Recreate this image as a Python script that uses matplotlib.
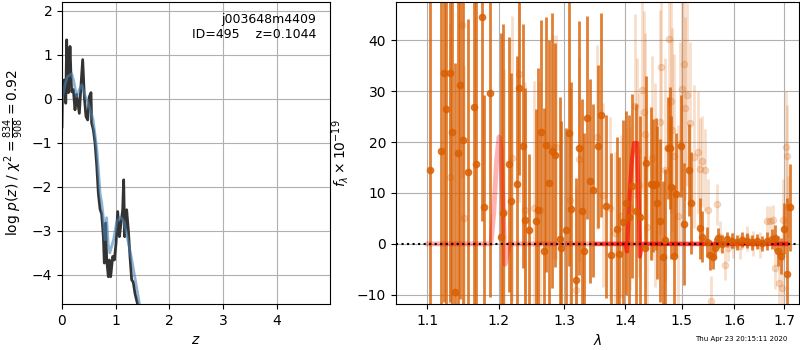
"""
Redshift fit summary: log p(z) on the left, grism spectrum on the right
"""

import numpy as np
import matplotlib
matplotlib.use('Agg')
import matplotlib.pyplot as plt
from matplotlib.ticker import FixedLocator, FixedFormatter, NullLocator

# --- left panel: log p(z) (dark = full fit, blue = smoothed) ---
z_fit = [0.000, 0.012, 0.030, 0.056, 0.070, 0.087, 0.100, 0.118, 0.149, 0.165,
         0.180, 0.211, 0.242, 0.270, 0.286, 0.323, 0.348, 0.385, 0.416, 0.447,
         0.478, 0.509, 0.540, 0.552, 0.583, 0.615, 0.646, 0.677, 0.708, 0.739,
         0.770, 0.788, 0.813, 0.832, 0.863, 0.881, 0.906, 0.944, 0.975, 1.006,
         1.037, 1.068, 1.099, 1.130, 1.148, 1.167, 1.204, 1.235, 1.266, 1.297,
         1.328, 1.359, 1.403, 1.428]
logp_fit = [-0.64, 0.43, 0.10, 0.43, -0.10, 1.34, 0.50, 0.14, 1.19, 0.60,
            0.16, 0.21, -0.25, 0.10, -0.02, -0.33, 0.20, 0.89, 0.05, -0.40,
            -0.48, 0.05, 0.14, -0.55, -0.70, -1.00, -1.50, -2.15, -2.50, -2.62,
            -3.13, -3.73, -2.82, -3.66, -4.04, -3.66, -4.04, -3.58, -3.66, -3.28,
            -2.56, -3.13, -2.83, -2.52, -1.84, -3.13, -2.52, -2.98, -3.58, -4.11,
            -4.17, -4.42, -4.64, -4.80]

z_smooth = [0.00, 0.05, 0.10, 0.18, 0.22, 0.27, 0.32, 0.37, 0.42, 0.49,
            0.58, 0.65, 0.71, 0.74, 0.77, 0.80, 0.83, 0.86, 0.89, 0.96,
            1.02, 1.08, 1.11, 1.16, 1.20, 1.30, 1.42, 1.46]
logp_smooth = [-0.02, 0.30, 0.50, 0.57, 0.40, 0.05, 0.20, 0.32, 0.10, -0.10,
               -0.48, -1.16, -2.15, -2.37, -2.70, -3.20, -2.70, -3.30, -3.50, -3.20,
               -2.79, -2.69, -2.71, -2.80, -3.05, -3.66, -4.50, -4.80]

# --- right panel: spectrum, first beam (solid) ---
wave1 = [1.1044, 1.1189, 1.1235, 1.1262, 1.1312, 1.1345, 1.1382, 1.1419, 1.1456, 1.1498,
         1.1563, 1.1653, 1.1681, 1.1767, 1.1795, 1.1882, 1.2043, 1.2072, 1.2161, 1.2190,
         1.2274, 1.2310, 1.2360, 1.2400, 1.2449, 1.2566, 1.2596, 1.2642, 1.2688, 1.2720,
         1.2760, 1.2813, 1.2859, 1.2938, 1.2953, 1.3028, 1.3071, 1.3113, 1.3183, 1.3242,
         1.3284, 1.3322, 1.3365, 1.3420, 1.3463, 1.3551, 1.3601, 1.3683, 1.3757, 1.3863,
         1.3902, 1.3959, 1.4011, 1.4061, 1.4119, 1.4192, 1.4262, 1.4338, 1.4366, 1.4448,
         1.4489, 1.4537, 1.4566, 1.4612, 1.4660, 1.4697, 1.4750, 1.4787, 1.4804, 1.4864,
         1.4907, 1.4991, 1.5046, 1.5145, 1.5182, 1.5340, 1.5372, 1.5466, 1.5528, 1.5579,
         1.5623, 1.5686, 1.5751, 1.5847, 1.5944, 1.6041, 1.6140, 1.6239, 1.6338, 1.6439,
         1.6540, 1.6641, 1.6743, 1.6810, 1.6877, 1.6933, 1.7000, 1.7062, 1.7124]
flux1 = [14.6, 18.2, 33.6, 26.5, 33.6, 22.0, -9.4, 17.9, 31.2, 20.4,
         14.2, 26.9, 15.6, 44.5, 7.2, 29.6, 1.4, 6.1, 15.6, 8.5,
         11.8, 30.6, 19.2, 4.7, 2.7, 4.5, 6.6, 22.0, -1.3, 19.5,
         12.0, 18.3, 17.4, 0.9, -0.8, 2.8, 21.7, 6.8, -7.0, 18.8,
         6.4, -1.3, 24.8, 12.3, 10.5, 19.2, 25.3, 7.4, -2.1, 3.0,
         -2.0, 4.3, 8.0, 5.3, 11.4, 6.5, 5.2, -0.8, 15.9, 11.8,
         11.5, 11.8, 8.1, 4.5, -2.6, 0.8, 18.8, 18.8, 11.1, -2.4,
         9.7, 19.2, 3.9, 14.5, 8.0, 3.1, 1.4, 0.4, -2.2, -2.5,
         -0.8, 1.2, 0.0, 0.9, 0.6, 0.3, 0.8, 0.6, 0.3, 0.5,
         0.1, 0.6, 1.0, 1.2, -1.4, -2.4, 3.0, -6.0, 7.2]
err1 = [45, 45, 45, 42, 45, 40, 45, 40, 42, 38,
        30, 40, 35, 40, 22, 40, 40, 37, 25, 25,
        25, 17, 24, 26, 15, 22, 28, 22, 28, 25,
        28, 27, 22, 28, 25, 20, 26, 25, 20, 25,
        22, 23, 20, 20, 17, 16, 20, 18, 20, 18,
        19, 20, 18, 20, 18, 21, 20, 18, 17, 15,
        13, 13, 15, 16, 15, 14, 10, 12, 14, 14,
        12, 10, 12, 9, 10, 6, 5, 3, 3, 2.5,
        2, 2, 1.8, 1.5, 1.5, 1.5, 1.5, 1.5, 1.5, 1.5,
        1.5, 1.8, 2, 2.5, 3, 3.5, 5, 15, 8.5]

# --- second beam (faint) ---
wave2 = [1.1313, 1.1484, 1.1507, 1.2077, 1.2196, 1.2305, 1.2400, 1.2537, 1.2624, 1.2830,
         1.2872, 1.3099, 1.3183, 1.3232, 1.3525, 1.3635, 1.3746, 1.3824, 1.3931, 1.4016,
         1.4085, 1.4176, 1.4199, 1.4234, 1.4286, 1.4333, 1.4350, 1.4373, 1.4461, 1.4514,
         1.4609, 1.4638, 1.4697, 1.4774, 1.4805, 1.4822, 1.4864, 1.4937, 1.4967, 1.5016,
         1.5046, 1.5071, 1.5102, 1.5151, 1.5225, 1.5306, 1.5337, 1.5380, 1.5431, 1.5494,
         1.5557, 1.5671, 1.5716, 1.5815, 1.5878, 1.5975, 1.6106, 1.6238, 1.6370, 1.6504,
         1.6639, 1.6707, 1.6775, 1.6810, 1.6899, 1.6947, 1.6981, 1.7030, 1.7051, 1.7085]
flux2 = [13.2, 42.9, 5.0, 6.3, 16.8, 33.3, 6.7, 7.0, 6.7, 19.1,
         19.1, 8.6, -9.0, 16.6, 21.0, 9.6, 7.0, 2.1, 5.4, 6.7,
         7.0, 27.1, 18.4, 11.6, 30.2, 25.8, 21.5, 3.4, 16.8, 11.6,
         24.0, 34.8, 14.5, 40.2, 28.1, 22.4, 17.3, 5.4, 19.7, 30.5,
         35.4, 26.6, 29.3, 23.7, 17.1, 18.0, 14.8, 16.2, 14.5, 6.7,
         -11.3, 7.8, 1.4, -4.1, -0.8, -0.2, -0.5, 1.1, 0.1, -0.2,
         4.4, 4.4, 4.7, -4.8, -7.7, -8.7, 4.7, 19.1, 17.3, 7.3]
err2 = [30, 30, 30, 28, 28, 25, 25, 25, 25, 22,
        22, 22, 20, 20, 18, 18, 18, 16, 16, 16,
        16, 18, 18, 18, 20, 20, 20, 18, 20, 20,
        22, 22, 22, 22, 22, 20, 20, 18, 20, 20,
        20, 18, 18, 16, 14, 12, 10, 9, 8, 6,
        5, 4, 3, 3, 2.5, 2.5, 2.5, 2.5, 2.5, 2.5,
        3, 3, 3, 4, 5, 6, 8, 11, 10, 6]

# --- best-fit models ---
model_wave1 = [1.101, 1.189, 1.193, 1.197, 1.2008, 1.2035, 1.2065, 1.2096, 1.2125, 1.216, 1.705]
model_flux1 = [0, 0, 6, 16, 21, 19, 8, -4, -2, 0, 0]
model_wave2 = [1.352, 1.401, 1.4035, 1.4074, 1.4119, 1.4157, 1.4211, 1.4236, 1.4257, 1.4285, 1.431, 1.705]
model_flux2 = [0, 0, -1.5, 8.6, 16.5, 19.8, 19.8, 8.6, -2.5, -0.8, 0, 0]

root = 'j003648m4409'
obj_id = 495
zbest = 0.1044
chi2_num, chi2_dof = 834, 908
stamp = 'Thu Apr 23 20:15:11 2020'

lam_ticks = [1.1, 1.2, 1.3, 1.4, 1.5, 1.6, 1.7]

plt.close('all')
fig = plt.figure(figsize=(8, 3.5), dpi=100)

# p(z) panel
ax1 = fig.add_axes([0.0775, 0.1314, 0.335, 0.863])
ax1.plot(z_fit, logp_fit, color='0.2', lw=2)
ax1.plot(z_smooth, logp_smooth, color='steelblue', alpha=0.6, lw=2)
ax1.set_xlim(0, 4.99)
ax1.set_ylim(-4.66, 2.2)
ax1.set_xticks([0, 1, 2, 3, 4])
ax1.set_yticks([-4, -3, -2, -1, 0, 1, 2])
ax1.grid()
ax1.set_xlabel('$z$')
ax1.set_ylabel(r'log $p(z)$ / $\chi^2=\frac{%d}{%d}=%.2f$'
               % (chi2_num, chi2_dof, chi2_num / chi2_dof))
ax1.text(0.95, 0.965, '%s\nID=%d    z=%.4f' % (root, obj_id, zbest),
         ha='right', va='top', transform=ax1.transAxes, fontsize=9)

# spectrum panel
clr = '#d95f02'
ax2 = fig.add_axes([0.495, 0.1314, 0.50375, 0.863])
ax2.errorbar(wave2, flux2, yerr=err2, marker='o', ms=4.5, linestyle='none',
             color=clr, alpha=0.2, elinewidth=2)
ax2.errorbar(wave1, flux1, yerr=err1, marker='o', ms=4.5, linestyle='none',
             color=clr, alpha=0.8, elinewidth=2)
ax2.plot(model_wave1, model_flux1, color='r', alpha=0.3, lw=3.5)
ax2.plot(model_wave2, model_flux2, color='r', alpha=0.6, lw=3)
ax2.axhline(0, color='k', linestyle=':', lw=1.5)

ax2.set_xscale('log')
ax2.set_xlim(1.059, 1.731)
ax2.set_ylim(-11.8, 47.5)
ax2.xaxis.set_major_locator(FixedLocator(lam_ticks))
ax2.xaxis.set_major_formatter(FixedFormatter(['%.1f' % t for t in lam_ticks]))
ax2.xaxis.set_minor_locator(NullLocator())
ax2.set_yticks([-10, 0, 10, 20, 30, 40])
ax2.grid()
ax2.set_xlabel(r'$\lambda$')
ax2.set_ylabel(r'$f_\lambda\times 10^{-19}$')

fig.text(0.984, 0.031, stamp, ha='right', va='center', fontsize=5)

fig.savefig('out.png')
